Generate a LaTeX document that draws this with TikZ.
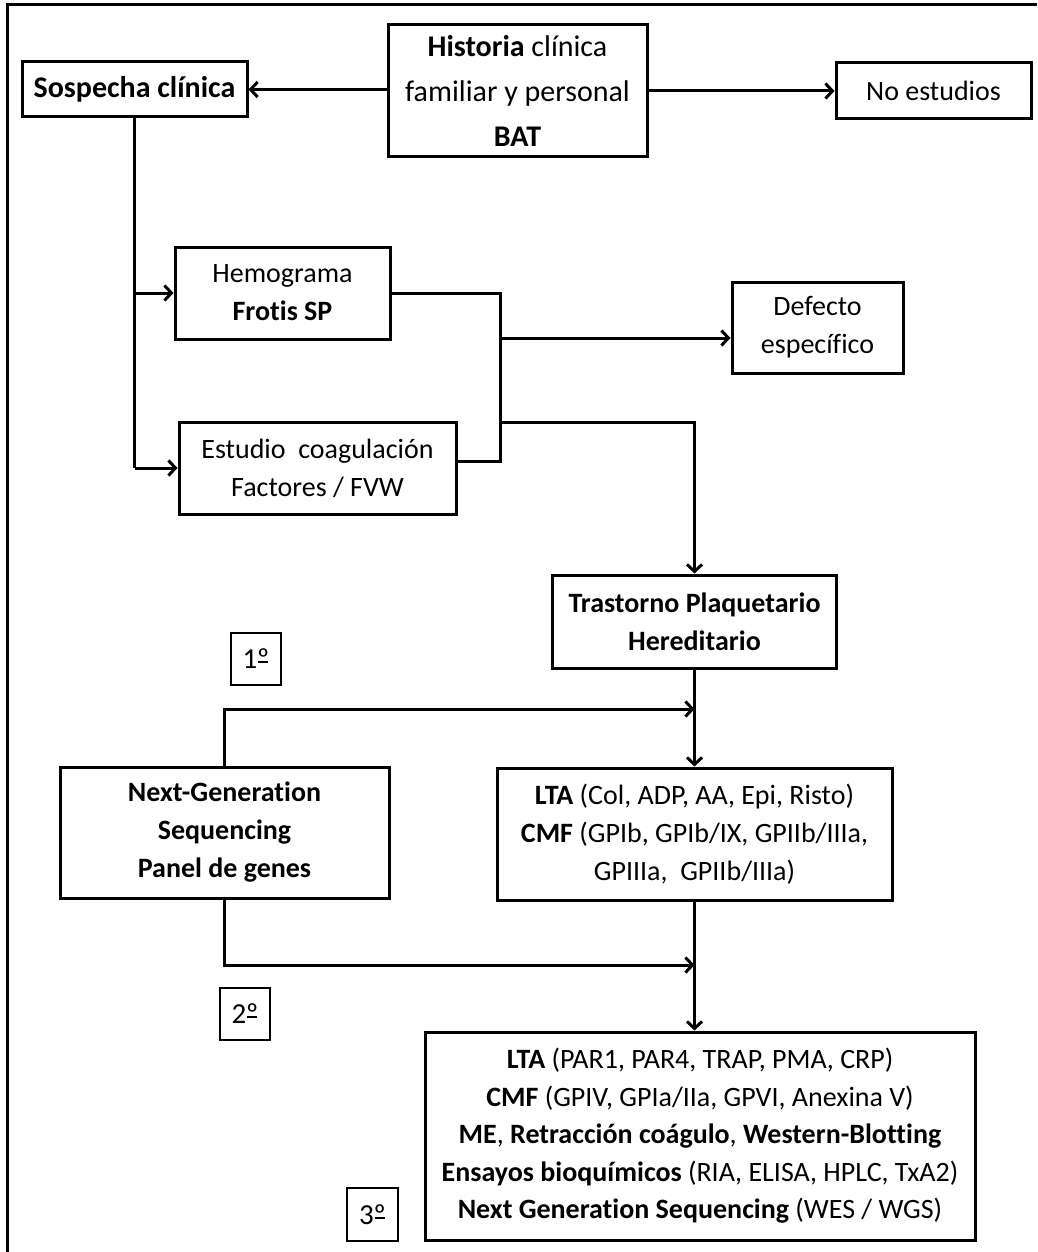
\documentclass[tikz,border=0pt]{standalone}
\usepackage{fontspec}
\setmainfont{Carlito}[Ligatures=NoCommon]
\usetikzlibrary{arrows.meta}
% ordinal indicator with its underline
\newcommand\ordmark{\ooalign{º\cr\hidewidth\rule[0.2em]{0.34em}{0.06em}\hidewidth\cr}}
\begin{document}
\begin{tikzpicture}[x=1pt,y=-1pt,
  box/.style={draw, line width=3pt, inner sep=0pt, align=center,
              font=\fontsize{28}{38}\selectfont},
  numbox/.style={draw, line width=1.2pt, inner sep=0pt,
              font=\fontsize{29}{32}\selectfont},
  link/.style={line width=3pt},
  arr/.style={link, -{Straight Barb[length=7pt,width=15pt]}}]
\useasboundingbox (0,0) rectangle (1037,1252);
% frame (top and left edges)
\draw[line width=3pt] (7,1252) -- (7,5) -- (1037,5);

% boxes
\node[box, minimum width=259pt, minimum height=132pt,
      font=\fontsize{30}{45}\selectfont] (hist) at (517.5,91)
  {\textbf{Historia} clínica\\familiar y personal\\\textbf{BAT}};
\node[box, minimum width=225pt, minimum height=55pt,
      font=\fontsize{30}{38}\selectfont] (sosp) at (134.5,89.5)
  {\textbf{Sospecha clínica}};
\node[box, minimum width=195pt, minimum height=56pt] (noest) at (933.5,91)
  {No estudios};
\node[box, minimum width=215pt, minimum height=92pt] (hemo) at (282.5,293)
  {Hemograma\\\textbf{Frotis SP}};
\node[box, minimum width=277pt, minimum height=92pt] (estu) at (317.5,468)
  {Estudio\ \ coagulación\\Factores / FVW};
\node[box, minimum width=171pt, minimum height=91pt] (defe) at (817.5,327.5)
  {Defecto\\específico};
\node[box, minimum width=284pt, minimum height=93pt] (tras) at (694.5,621.5)
  {\textbf{Trastorno Plaquetario}\\\textbf{Hereditario}};
\node[box, minimum width=329pt, minimum height=131pt] (ngs) at (224.5,832.5)
  {\textbf{Next-Generation}\\\textbf{Sequencing}\\\textbf{Panel de genes}};
\node[box, minimum width=395pt, minimum height=132pt] (lta1) at (694.5,834)
  {\textbf{LTA} (Col, ADP, AA, Epi, Risto)\\
   \textbf{CMF} (GPIb, GPIb/IX, GPIIb/IIIa,\\
   GPIIIa,\ \ GPIIb/IIIa)};
\node[box, minimum width=550pt, minimum height=208pt,
      font=\fontsize{28}{37.5}\selectfont] (lta2) at (700,1136)
  {\textbf{LTA} (PAR1, PAR4, TRAP, PMA, CRP)\\
   \textbf{CMF} (GPIV, GPIa/IIa, GPVI, Anexina V)\\
   \textbf{ME}, \textbf{Retracción coágulo}, \textbf{Western-Blotting}\\
   \textbf{Ensayos bioquímicos} (RIA, ELISA, HPLC, TxA2)\\
   \textbf{Next Generation Sequencing} (WES / WGS)};

% step labels
\node[numbox, minimum width=50pt, minimum height=52pt] (n1) at (256,659) {1\ordmark};
\node[numbox, minimum width=50pt, minimum height=52pt] (n2) at (245,1014) {2\ordmark};
\node[numbox, minimum width=51pt, minimum height=53pt] (n3) at (372.5,1214.5) {3\ordmark};

% junction points
\coordinate (jx) at (500,0);
\coordinate (eo) at ([yshift=7pt]estu.east);
\coordinate (dj) at (500,338);
\coordinate (tj) at (500,422);
\coordinate (up) at (0,709);
\coordinate (low) at (0,965);

% connectors
\draw[arr] (hist.west |- sosp.east) -- (sosp.east);
\draw[arr] (hist.east |- noest.west) -- (noest.west);
\draw[link] (sosp.south) -- (sosp.south |- estu.west);
\draw[arr] (sosp.south |- hemo.west) -- (hemo.west);
\draw[arr] (sosp.south |- estu.west) -- (estu.west);
\draw[link] (hemo.east) -| (jx |- eo) -- (eo);
\draw[arr] (dj) -- (dj -| defe.west);
\draw[arr] (tj) -| (tras.north);
\draw[arr] (tras.south) -- (lta1.north);
\draw[arr] (ngs.north) |- (up -| lta1.north);
\draw[arr] (ngs.south) |- (low -| lta1.south);
\draw[arr] (lta1.south) -- (lta1.south |- lta2.north);
\end{tikzpicture}
\end{document}
